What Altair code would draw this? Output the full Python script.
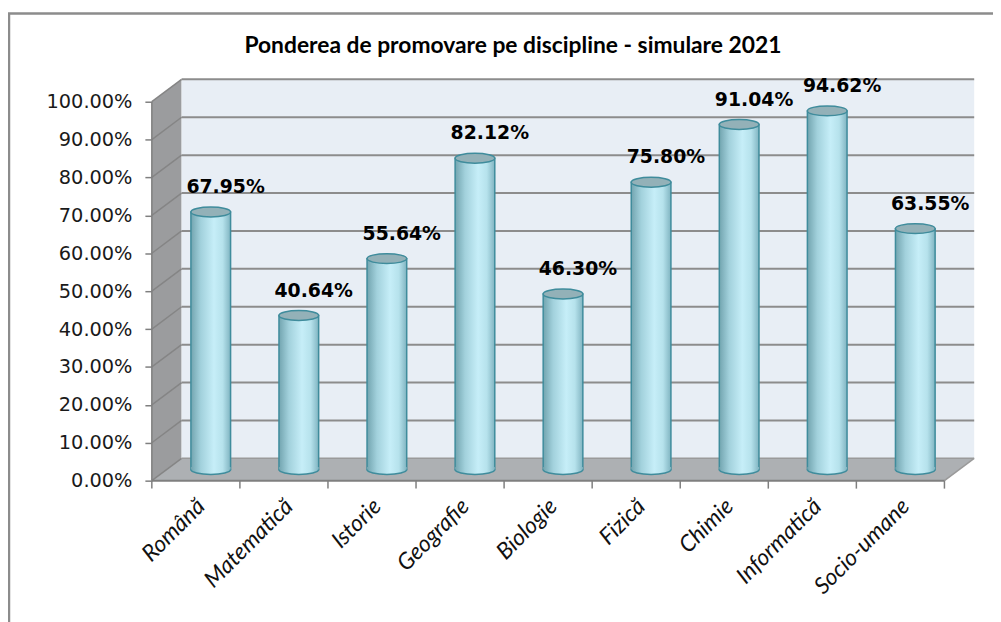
import altair as alt
import pandas as pd

# ---------------- data ----------------
categories = ["Română", "Matematică", "Istorie", "Geografie", "Biologie",
              "Fizică", "Chimie", "Informatică", "Socio-umane"]
values = [67.95, 40.64, 55.64, 82.12, 46.30, 75.80, 91.04, 94.62, 63.55]
y_ticks = [0, 10, 20, 30, 40, 50, 60, 70, 80, 90, 100]
title_text = "Ponderea de promovare pe discipline - simulare 2021"

# ---------------- geometry / style ----------------
W, H = 831, 405
X_MAX, Y_MAX = 9.36, 106
PXX = W / X_MAX
PXY = H / Y_MAX
DX = 30 / PXX          # depth offset (x units)
DY = 22.5 / PXY        # depth offset (y units)
BAR_PX = 40
HALF = BAR_PX / 2 / PXX
n = len(categories)

bars = pd.DataFrame({"cat": categories, "v": values})
bars["xc"] = [i + 0.5 + DX / 2 for i in range(n)]
bars["x1"] = bars["xc"] - HALF
bars["x2"] = bars["xc"] + HALF
bars["top"] = bars["v"] + DY / 2
bars["base"] = DY / 2
bars["label"] = [f"{v:.2f}%" for v in values]

xs = alt.Scale(domain=[0, X_MAX], nice=False, zero=False)
ys = alt.Scale(domain=[0, Y_MAX], nice=False, zero=False)

cats_js = "[" + ",".join("'" + c + "'" for c in categories) + "]"
X_AXIS = alt.Axis(values=[i + 0.5 for i in range(n)],
                  labelExpr=cats_js + "[floor(datum.value)]",
                  ticks=False, tickSize=0, domain=False, grid=False, title=None,
                  labelAngle=-45, labelAlign="right", labelBaseline="middle",
                  labelPadding=22, labelOffset=5, labelFont="Lato", labelFontStyle="italic",
                  labelFontSize=23, labelColor="#111111", labelOverlap=False,
                  labelFlush=False, labelBound=False)
Y_AXIS = alt.Axis(values=y_ticks,
                  labelExpr="format(datum.value, '.2f') + '%'",
                  domain=False, grid=False, title=None, tickSize=7,
                  tickColor="#7f7f7f", tickWidth=1.5,
                  labelPadding=13, labelFont="DejaVu Sans", labelFontSize=19.5,
                  labelColor="#1a1a1a", labelOverlap=False, labelFlush=False)


def X(f):
    return alt.X(f, type="quantitative", scale=xs, axis=X_AXIS)


def Y(f):
    return alt.Y(f, type="quantitative", scale=ys, axis=Y_AXIS)


GRID = "#8c8c8c"
EDGE = "#3f8c9c"

# ---------------- decorations (3D box) ----------------
side = pd.DataFrame({"x": [0, DX], "y": [100, 100 + DY], "y2": [0, DY]})
side_wall = alt.Chart(side).mark_area(color="#9b9c9e", opacity=1).encode(
    x=X("x"), y=Y("y"), y2="y2")

back = pd.DataFrame({"x": [DX], "x2": [n + DX], "y": [DY], "y2": [100 + DY]})
back_wall = alt.Chart(back).mark_rect(color="#e8eef5").encode(
    x=X("x"), x2="x2", y=Y("y"), y2="y2")

floor_df = pd.DataFrame({"x": [0, DX, n, n + DX],
                         "y": [0, DY, DY, DY],
                         "y2": [0, 0, 0, DY]})
floor = alt.Chart(floor_df).mark_area(color="#adb0b3", opacity=1).encode(
    x=X("x"), y=Y("y"), y2="y2")

diag_df = pd.DataFrame({"x": [0] * len(y_ticks), "x2": [DX] * len(y_ticks),
                        "y": y_ticks, "y2": [t + DY for t in y_ticks]})
diag = alt.Chart(diag_df).mark_rule(color="#858585", strokeWidth=1.5).encode(
    x=X("x"), x2="x2", y=Y("y"), y2="y2")

grid_df = pd.DataFrame({"x": [DX] * len(y_ticks), "x2": [n + DX] * len(y_ticks),
                        "y": [t + DY for t in y_ticks]})
grid = alt.Chart(grid_df[grid_df["y"] > DY + 1]).mark_rule(color=GRID, strokeWidth=2).encode(
    x=X("x"), x2="x2", y=Y("y"))

floor_back = alt.Chart(pd.DataFrame({"x": [DX], "x2": [n + DX], "y": [DY]})).mark_rule(
    color="#9a9a9a", strokeWidth=1.5).encode(x=X("x"), x2="x2", y=Y("y"))
floor_right = alt.Chart(pd.DataFrame({"x": [n], "x2": [n + DX], "y": [0], "y2": [DY]})).mark_rule(
    color="#9a9a9a", strokeWidth=1.5).encode(x=X("x"), x2="x2", y=Y("y"), y2="y2")

y_line = alt.Chart(pd.DataFrame({"x": [0], "y": [0], "y2": [100]})).mark_rule(
    color="#7f7f7f", strokeWidth=1.5).encode(x=X("x"), y=Y("y"), y2="y2")
x_line = alt.Chart(pd.DataFrame({"x": [0], "x2": [n], "y": [0]})).mark_rule(
    color="#7f7f7f", strokeWidth=2).encode(x=X("x"), x2="x2", y=Y("y"))
xt = pd.DataFrame({"x": list(range(n + 1))})
xt["y"] = 0
xt["y2"] = -2.1
x_ticks = alt.Chart(xt).mark_rule(color="#7f7f7f", strokeWidth=1.5).encode(
    x=X("x"), y=Y("y"), y2="y2")

frame = alt.Chart(pd.DataFrame({"a": [0]})).mark_rect(
    fill="transparent", stroke="#8c8c8c", strokeWidth=2.5).encode(
    x=alt.value(-144), x2=alt.value(W + 40), y=alt.value(-66), y2=alt.value(H + 160))

# ---------------- cylinders ----------------
grad = alt.Gradient(gradient="linear", x1=0, x2=1, y1=0, y2=0, stops=[
    alt.GradientStop(color="#72a4af", offset=0),
    alt.GradientStop(color="#a2d1dc", offset=0.25),
    alt.GradientStop(color="#c6eef8", offset=0.58),
    alt.GradientStop(color="#b6e2ec", offset=0.8),
    alt.GradientStop(color="#80b4c1", offset=1),
])

body = alt.Chart(bars).mark_bar(fill=grad, stroke=EDGE, strokeWidth=1.5).encode(
    x=X("x1"), x2="x2", y=Y("top"), y2="base")

CAP_FILL = "M -1 -0.12 L -1 0 A 1 0.25 0 0 0 1 0 L 1 -0.12 Z"
CAP_ARC = "M -1 0 A 1 0.25 0 0 0 1 0"
TOP = "M -1 0 A 1 0.25 0 0 1 1 0 A 1 0.25 0 0 1 -1 0 Z"

cap_fill = alt.Chart(bars).mark_point(shape=CAP_FILL, size=BAR_PX ** 2, filled=True,
                                      fill=grad, strokeWidth=0, opacity=1).encode(
    x=X("xc"), y=Y("base"))
cap_arc = alt.Chart(bars).mark_point(shape=CAP_ARC, size=BAR_PX ** 2, filled=False,
                                     fill="transparent", stroke=EDGE, strokeWidth=1.5,
                                     opacity=1).encode(
    x=X("xc"), y=Y("base"))
top_cap = alt.Chart(bars).mark_point(shape=TOP, size=BAR_PX ** 2, filled=True,
                                     fill="#93b1b8", stroke=EDGE, strokeWidth=1.5,
                                     opacity=1).encode(
    x=X("xc"), y=Y("top"))

labels = alt.Chart(bars).mark_text(font="DejaVu Sans", fontWeight="bold", fontSize=19,
                                   color="#000000", dx=15, dy=-25,
                                   baseline="middle").encode(
    x=X("xc"), y=Y("top"), text="label")

title = alt.Chart(pd.DataFrame({"t": [title_text]})).mark_text(
    font="Lato", fontWeight="bold", fontSize=23, color="#000000",
    baseline="middle", align="center").encode(
    x=alt.value(364), y=alt.value(-33), text="t")

chart = alt.layer(
    frame, side_wall, back_wall, floor, diag, grid, floor_back, floor_right,
    y_line, x_line, x_ticks, body, cap_fill, cap_arc, top_cap, labels, title
).properties(
    width=W, height=H,
    autosize=alt.AutoSizeParams(type="none"),
    padding={"left": 145, "top": 69, "right": 17, "bottom": 140},
    background="white",
).configure_view(stroke=None)

chart.save("out.html", embed_options={"renderer": "svg", "actions": False})
